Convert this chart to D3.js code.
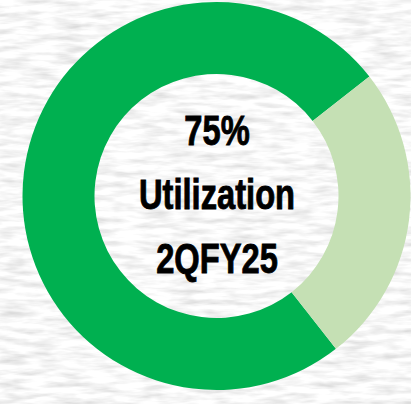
<!DOCTYPE html>
<html>
<head>
<meta charset="utf-8">
<script src="https://cdn.jsdelivr.net/npm/d3@7"></script>
<style>
html,body{margin:0;padding:0;overflow:hidden;background:#ededed;}
svg{display:block;}
</style>
</head>
<body>
<svg id="chart" width="411" height="404"></svg>
<script>
// Data
const categories = ["Utilized", "Unused"];
const values = [75, 25];
const colors = ["#00b050", "#c5e0b4"];
const centerLines = ["75%", "Utilization", "2QFY25"];

const W = 411, H = 404;
const svg = d3.select("#chart");

// textured paper background
const defs = svg.append("defs");
const f = defs.append("filter").attr("id", "paper")
  .attr("x", 0).attr("y", 0).attr("width", W).attr("height", H)
  .attr("filterUnits", "userSpaceOnUse");
f.append("feTurbulence").attr("type", "fractalNoise")
  .attr("baseFrequency", "0.035 0.17").attr("numOctaves", 3).attr("seed", 11)
  .attr("result", "noise");
f.append("feColorMatrix").attr("type", "matrix").attr("in", "noise")
  .attr("values", "0.55 0 0 0 0.66  0.55 0 0 0 0.66  0.55 0 0 0 0.66  0 0 0 0 1");
svg.append("rect").attr("width", W).attr("height", H).attr("fill", "#ededed");
svg.append("rect").attr("width", W).attr("height", H).attr("filter", "url(#paper)");

const cx = 216.5, cy = 196;
const outerR = 194, innerR = 122;
const deg = Math.PI / 180;

const pie = d3.pie().sort(null).value(d => d)
  .startAngle(142 * deg).endAngle(142 * deg + 2 * Math.PI);
const arc = d3.arc().innerRadius(innerR).outerRadius(outerR);

const g = svg.append("g").attr("transform", `translate(${cx},${cy})`);
g.selectAll("path").data(pie(values)).join("path")
  .attr("d", arc)
  .attr("fill", (d, i) => colors[i]);

const baselines = [144.5, 209, 273];
const tg = svg.append("g");
centerLines.forEach((t, i) => {
  tg.append("text")
    .attr("transform", `translate(217,${baselines[i]}) scale(0.76,1)`)
    .attr("text-anchor", "middle")
    .attr("font-family", "'Liberation Sans', Arial, sans-serif")
    .attr("font-weight", "bold")
    .attr("font-size", 43)
    .attr("fill", "#000")
    .attr("stroke", "#000")
    .attr("stroke-width", 0.9)
    .text(t);
});
</script>
</body>
</html>
